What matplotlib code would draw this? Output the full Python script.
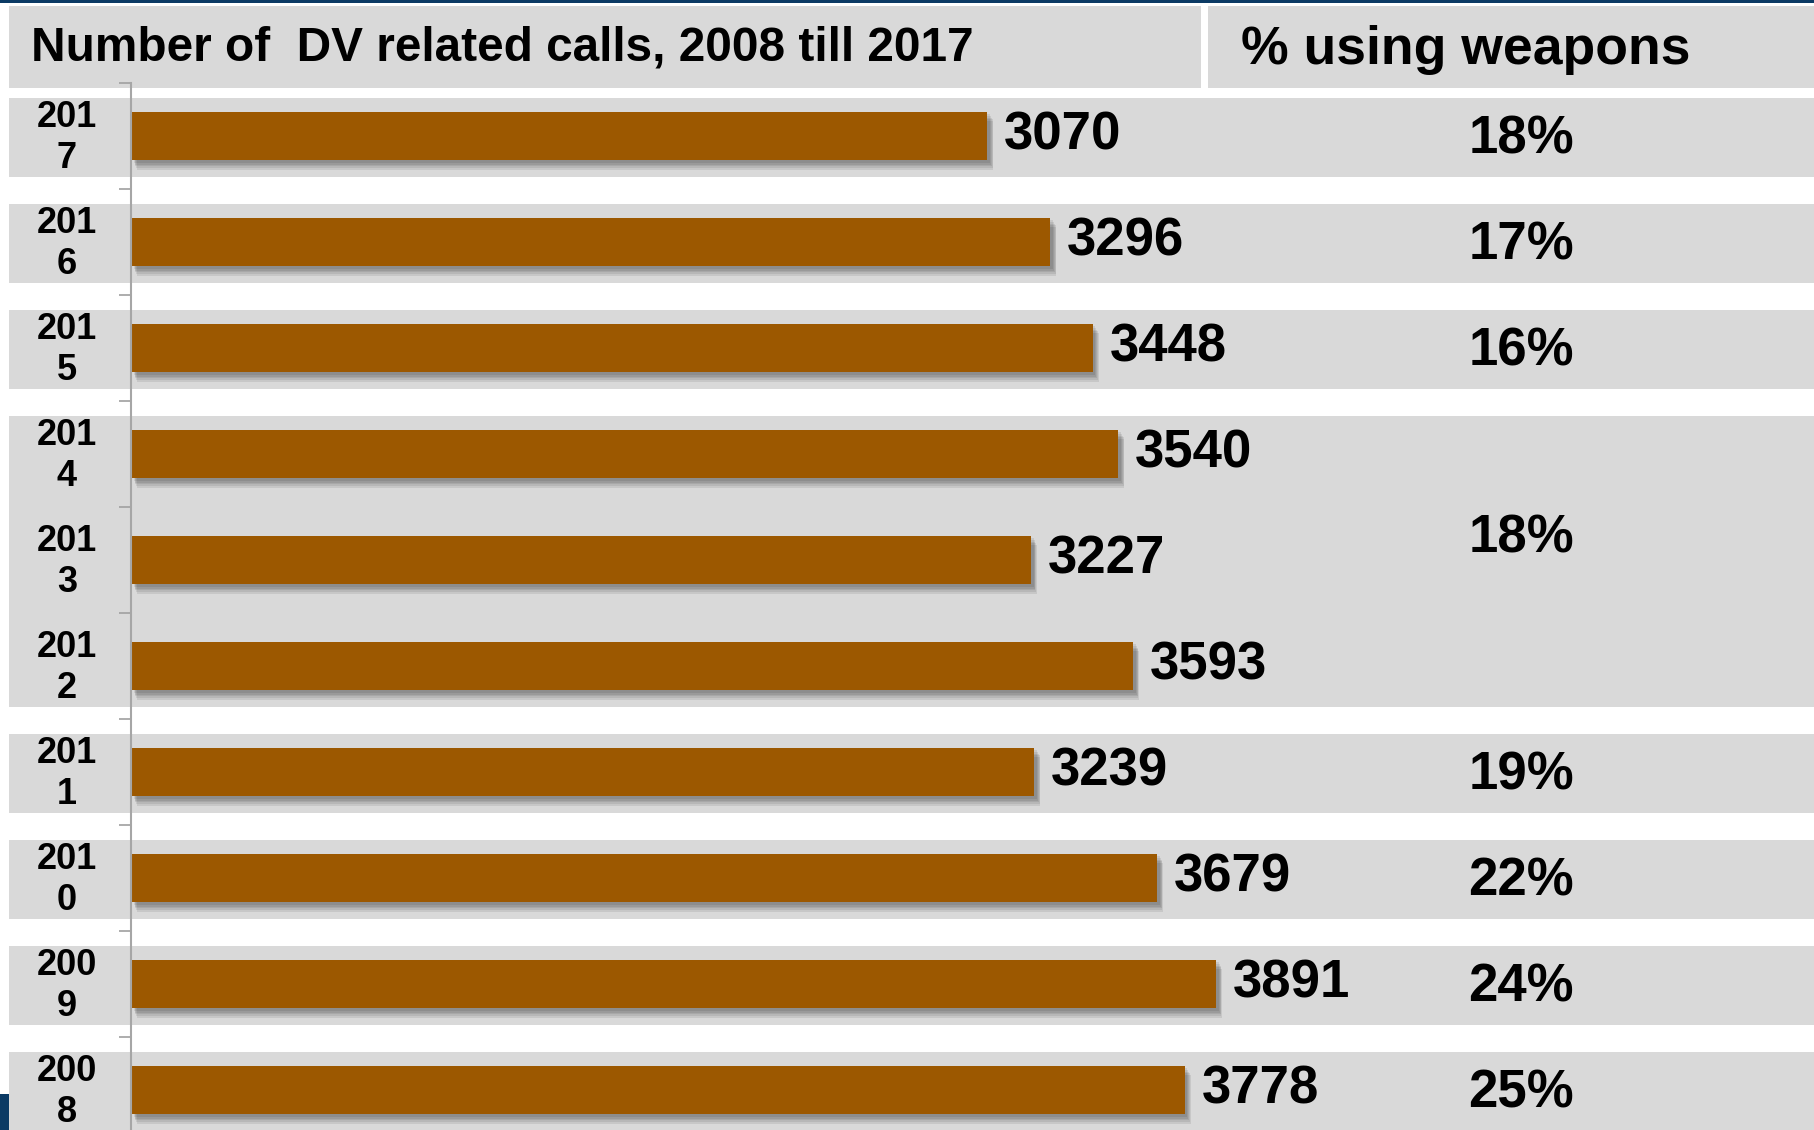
import matplotlib
matplotlib.use("Agg")
import matplotlib.pyplot as plt
import matplotlib.patheffects as pe
from matplotlib.patches import Rectangle
from matplotlib import transforms
import numpy as np

plt.rcParams['font.family'] = ['Liberation Sans', 'DejaVu Sans']

# data
years = [2017, 2016, 2015, 2014, 2013, 2012, 2011, 2010, 2009, 2008]
calls = [3070, 3296, 3448, 3540, 3227, 3593, 3239, 3679, 3891, 3778]
# weapon share is given per group of years (2012-2014 share one cell)
weapon_groups = [[2017], [2016], [2015], [2014, 2013, 2012], [2011], [2010], [2009], [2008]]
weapon_pct = ["18%", "17%", "16%", "18%", "19%", "22%", "24%", "25%"]

title = "Number of  DV related calls, 2008 till 2017"
header = "% using weapons"

W, H = 1814, 1130
BAR = "#9c5800"
BAND = "#d9d9d9"
NAVY = "#0b3a64"

fig = plt.figure(figsize=(W / 100, H / 100), dpi=100)
fig.patch.set_facecolor("white")

def px(x0, y0, x1, y1):
    # figure-pixel box (top-left origin) -> figure fraction rect
    return (x0 / W, 1 - y1 / H), (x1 - x0) / W, (y1 - y0) / H

# header boxes
for box in [(9, 6, 1201, 88), (1208, 6, W, 88)]:
    xy, w, h = px(*box)
    fig.patches.append(Rectangle(xy, w, h, transform=fig.transFigure,
                                 facecolor=BAND, edgecolor="none", zorder=-5))
xy, w, h = px(0, 0, W, 3)
fig.patches.append(Rectangle(xy, w, h, transform=fig.transFigure,
                             facecolor=NAVY, edgecolor="none", zorder=-4))
xy, w, h = px(0, 1094, 9, H)
fig.patches.append(Rectangle(xy, w, h, transform=fig.transFigure,
                             facecolor=NAVY, edgecolor="none", zorder=-4))

fig.text(31 / W, 1 - 48 / H, title, fontsize=34.4, fontweight="bold",
         ha="left", va="center")
fig.text(1466 / W, 1 - 50 / H, header, fontsize=38.5, fontweight="bold",
         ha="center", va="center")

# axes: left spine at x=131px, categories 106px apart starting at y=83px
ax_left = 131 / W
ax_top = 1 - 83 / H
ax_h = 1060 / H
ax = fig.add_axes([ax_left, ax_top - ax_h, 1 - ax_left, ax_h])
ax.set_facecolor("none")

y = np.arange(len(years))
ax.set_ylim(len(years) - 0.5, -0.5)
ax.set_xlim(0, (W - 131) / 0.2789)

bars = ax.barh(y, calls, height=0.46, color=BAR, edgecolor="none", zorder=3)
shadow = [pe.SimplePatchShadow(offset=(2 + k * 0.6, -2 - k * 1.2), shadow_rgbFace="black",
                               alpha=0.08) for k in range(5)]
for b in bars:
    b.set_path_effects(shadow + [pe.Normal()])

for yi, v in zip(y, calls):
    ax.text(v + 60, yi, str(v), fontsize=38, fontweight="bold",
            ha="left", va="center", zorder=4)

# row bands and weapon percentages
band_tr = transforms.blended_transform_factory(fig.transFigure, ax.transData)
pct_tr = transforms.blended_transform_factory(ax.transAxes, ax.transData)
for grp, lab in zip(weapon_groups, weapon_pct):
    idx = [years.index(g) for g in grp]
    y0, y1 = min(idx) - 0.36, max(idx) + 0.39
    fig.patches.append(Rectangle((9 / W, y0), 1 - 9 / W, y1 - y0, transform=band_tr,
                                 facecolor=BAND, edgecolor="none", zorder=-5))
    yc = np.mean(idx) + (-0.2 if len(idx) > 1 else 0.03)
    ax.text((1521 - 131) / (W - 131), yc, lab, transform=pct_tr, fontsize=38,
            fontweight="bold", ha="center", va="center")

# year labels split over two lines, as in the source table
for yi, yr in zip(y, years):
    ax.text(67 / W, yi + 0.015, f"{str(yr)[:3]}\n{str(yr)[3:]}", transform=band_tr,
            fontsize=26, fontweight="bold", ha="center", va="center",
            multialignment="center", linespacing=1.22)

ax.set_yticks(y)
ax.set_yticklabels([])
ax.set_yticks(np.arange(len(years) + 1) - 0.5, minor=True)
ax.tick_params(axis="y", which="major", length=0)
ax.tick_params(axis="y", which="minor", length=8.5, width=1.2, color="#a0a0a0")
ax.set_xticks([])
for s in ["top", "right", "bottom"]:
    ax.spines[s].set_visible(False)
ax.spines["left"].set_color("#a6a6a6")
ax.spines["left"].set_linewidth(1.5)
ax.spines["left"].set_zorder(5)

fig.savefig("out.png", dpi=100)
